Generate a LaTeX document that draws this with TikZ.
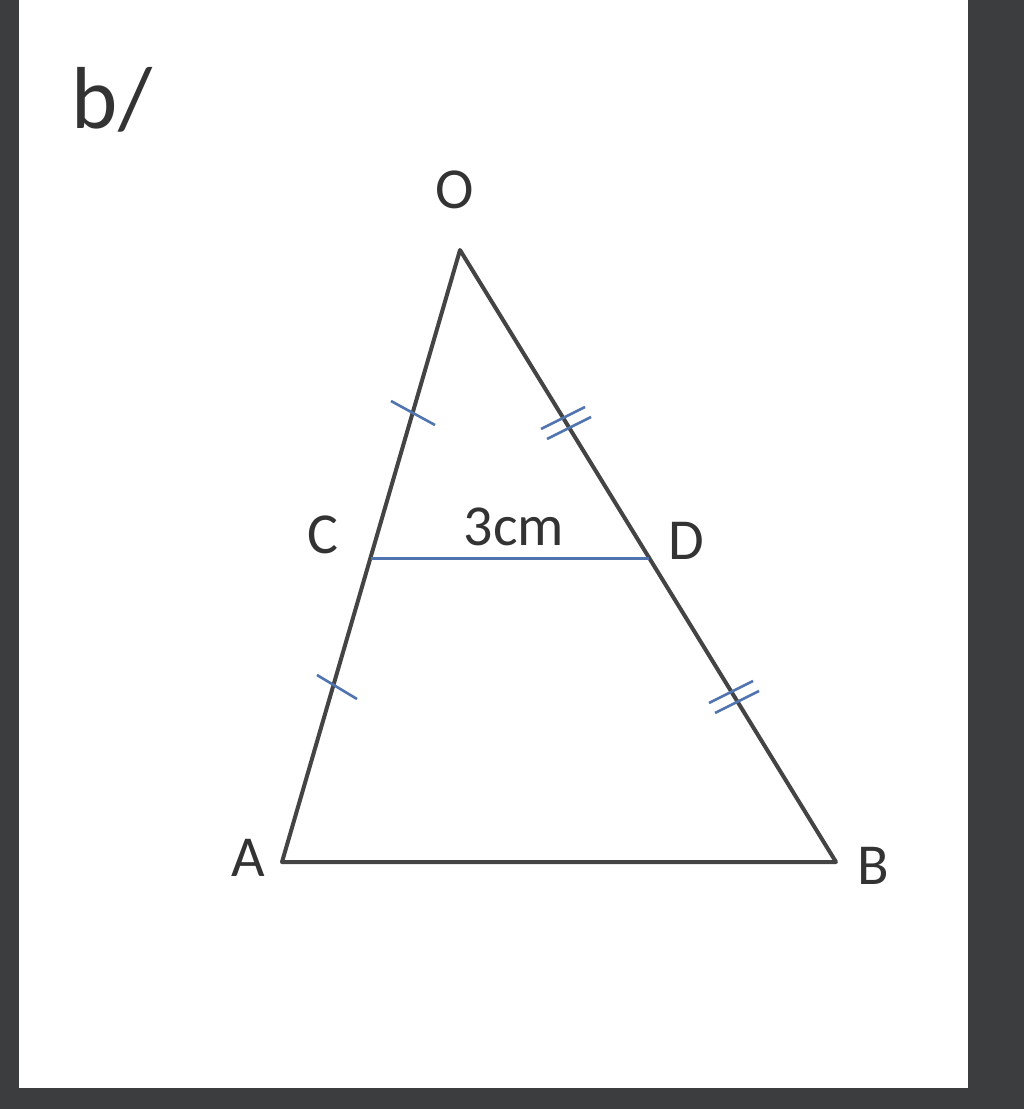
\documentclass[tikz,border=0pt]{standalone}
\usepackage{fontspec}
\setmainfont{Carlito}
\usetikzlibrary{calc}
\definecolor{frame}{HTML}{3C3D3F}
\definecolor{side}{HTML}{444444}
\definecolor{blueline}{HTML}{4F74B0}
\definecolor{txt}{HTML}{333333}
\tikzset{
  sideline/.style={draw=side,line width=4pt,line cap=round,line join=round},
  midline/.style={draw=blueline,line width=3pt},
  tickline/.style={draw=blueline,line width=2.6pt},
  lbl/.style={text=txt,font=\fontsize{58}{64}\selectfont,inner sep=0pt},
}
\begin{document}
\begin{tikzpicture}[x=1pt,y=-1pt]
\useasboundingbox (0,0) rectangle (1024,1109);
\fill[frame] (0,0) rectangle (1024,1109);
\fill[white] (19,0) rectangle (968,1088);
\coordinate (O) at (460,250);
\coordinate (A) at (282,862);
\coordinate (B) at (836,862);
\coordinate (C) at (371,558);
\coordinate (D) at (649,558);
\draw[sideline] (A) -- (O) -- (B) -- cycle;
\draw[midline] (C) -- (D);
% single ticks
\coordinate (t1) at (413,413);
\coordinate (t2) at (337,687);
\draw[tickline] ($(t1)+(-22,-12)$) -- ($(t1)+(22,12)$);
\draw[tickline] ($(t2)+(-20,-12)$) -- ($(t2)+(20,12)$);
% double ticks
\coordinate (u1) at (566,423);
\coordinate (u2) at (734,697);
\draw[tickline] ($(u1)+(-3,-5)+(-22,11)$) -- ($(u1)+(-3,-5)+(22,-11)$);
\draw[tickline] ($(u1)+(3,5)+(-22,11)$) -- ($(u1)+(3,5)+(22,-11)$);
\draw[tickline] ($(u2)+(-3,-5)+(-22,11)$) -- ($(u2)+(-3,-5)+(22,-11)$);
\draw[tickline] ($(u2)+(3,5)+(-22,11)$) -- ($(u2)+(3,5)+(22,-11)$);
% labels
\node[lbl] (lO) at (455,190) {O};
\node[lbl] (lC) at (323,535) {C};
\node[lbl] (lD) at (686,541) {D};
\node[lbl] (lA) at (248,858) {A};
\node[lbl] (lB) at (873,866) {B};
\node[lbl] (l3) at (514,527) {3cm};
\node[text=txt,font=\fontsize{88}{96}\selectfont,inner sep=0pt] (lb) at (112,100) {b/};
\end{tikzpicture}
\end{document}
